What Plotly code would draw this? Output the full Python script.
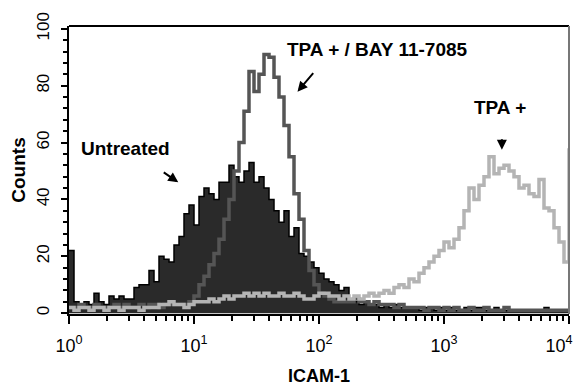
import numpy as np
import plotly.graph_objects as go

# ---- data: histogram channel counts, 100 log-spaced bins over 10^0..10^4 (0.04 decade each)
bin_width_decades = 0.04
n_bins = 100

untreated = [22, 4, 3, 4, 3, 7, 4, 3, 6, 5,
             6, 5, 5, 9, 10, 10, 15, 11, 20, 19,
             18, 24, 27, 35, 38, 31, 41, 44, 42, 40,
             46, 46, 52, 48, 46, 50, 53, 46, 48, 44,
             40, 36, 32, 36, 27, 30, 21, 20, 18, 16,
             14, 12, 11, 10, 8, 9, 5, 4, 3, 4,
             3, 3, 2, 3, 2, 3, 2, 2, 2, 2,
             1, 2, 2, 1, 2, 1, 2, 1, 1, 2,
             1, 2, 2, 1, 1, 2, 1, 1, 1, 1,
             1, 1, 1, 1, 1, 2, 1, 1, 1, 1]

tpa_bay = [2, 2, 3, 2, 2, 3, 2, 2, 2, 3,
           2, 3, 2, 2, 3, 2, 3, 3, 2, 3,
           3, 3, 3, 3, 4, 6, 10, 13, 17, 21,
           26, 33, 40, 50, 60, 71, 85, 78, 84, 91,
           90, 83, 76, 66, 55, 42, 33, 22, 15, 10,
           7, 6, 5, 4, 4, 4, 4, 5, 4, 4,
           3, 4, 3, 3, 3, 2, 3, 2, 2, 2,
           2, 1, 2, 2, 1, 2, 1, 2, 1, 1,
           2, 1, 1, 2, 1, 1, 1, 2, 1, 1,
           1, 1, 1, 1, 1, 1, 1, 1, 1, 1]

tpa = [2, 1, 2, 2, 1, 2, 2, 1, 2, 2,
       1, 2, 2, 2, 1, 2, 2, 2, 3, 3,
       4, 3, 3, 2, 3, 4, 4, 4, 5, 4,
       5, 6, 5, 6, 6, 7, 6, 7, 6, 7,
       6, 6, 7, 6, 6, 7, 6, 5, 5, 6,
       7, 7, 6, 6, 5, 6, 5, 6, 5, 6,
       7, 6, 7, 8, 7, 9, 10, 9, 12, 11,
       14, 16, 18, 20, 22, 25, 23, 26, 30, 36,
       44, 40, 45, 48, 55, 49, 51, 52, 50, 48,
       44, 45, 42, 41, 47, 37, 36, 30, 25, 18]
tpa_last_channel = 58   # saturation channel at 10^4

y_ticks = [0, 20, 40, 60, 80, 100]
x_tickvals = [1, 10, 100, 1000, 10000]
x_ticktext = ["10<sup>0</sup>", "10<sup>1</sup>", "10<sup>2</sup>", "10<sup>3</sup>",
              "10<sup>4</sup>" + "\u00a0" * 4]

edges = list(10 ** (np.arange(n_bins + 1) * bin_width_decades))

FONT = "Liberation Sans Narrow, Arial Narrow, Liberation Sans, Arial, sans-serif"

fig = go.Figure()
fig.add_trace(go.Scatter(
    x=edges, y=untreated + [untreated[-1]], mode="lines", line_shape="hv",
    line=dict(color="#000000", width=1.5), fill="tozeroy", fillcolor="#2a2a2a",
    name="Untreated", showlegend=False, hoverinfo="skip"))
fig.add_trace(go.Scatter(
    x=edges, y=tpa_bay + [tpa_bay[-1]], mode="lines", line_shape="hv",
    line=dict(color="#555555", width=3.5), name="TPA + / BAY 11-7085",
    showlegend=False, hoverinfo="skip"))
fig.add_trace(go.Scatter(
    x=edges, y=tpa + [tpa_last_channel], mode="lines", line_shape="hv",
    line=dict(color="#b4b4b4", width=3.5), name="TPA +",
    showlegend=False, hoverinfo="skip"))

# page body has an 8px margin, so the figure is offset by 8px
fig.update_layout(
    width=576, height=378,
    margin=dict(l=61, r=15, t=18, b=72),
    paper_bgcolor="white", plot_bgcolor="white",
    font=dict(family=FONT, color="black"),
    xaxis=dict(
        type="log", range=[0, 4], tickvals=x_tickvals, ticktext=x_ticktext,
        ticks="outside", ticklen=8, tickwidth=2, tickcolor="black",
        showline=True, linecolor="black", linewidth=2, showgrid=False, zeroline=False,
        tickfont=dict(size=18, family=FONT), ticklabelstandoff=6, ticklabeloverflow="allow",
        minor=dict(dtick="D1", ticks="outside", ticklen=5, tickwidth=1.5, tickcolor="black", showgrid=False),
        title=dict(text="<b>ICAM-1</b>", font=dict(size=18, family=FONT), standoff=15),
        automargin=False),
    yaxis=dict(
        range=[-0.3, 101], tickvals=y_ticks, tickangle=-90,
        ticks="outside", ticklen=6, tickwidth=2, tickcolor="black",
        showline=True, linecolor="black", linewidth=2, showgrid=False, zeroline=False,
        tickfont=dict(size=17, family=FONT), ticklabelstandoff=5,
        minor=dict(dtick=4, ticks="outside", ticklen=4, tickwidth=1.5, tickcolor="black", showgrid=False),
        title=dict(text="<b>Counts</b>", font=dict(size=19, family=FONT), standoff=10),
        automargin=False),
    shapes=[
        dict(type="line", xref="paper", yref="paper", x0=0, x1=1, y0=1, y1=1,
             line=dict(color="black", width=2)),
        dict(type="line", xref="paper", yref="paper", x0=1, x1=1, y0=0, y1=1,
             line=dict(color="#777777", width=2)),
    ],
    annotations=[
        dict(x=0.449, y=57.9, xref="x", yref="y", text="<b>Untreated</b>", showarrow=False,
             font=dict(size=19, family=FONT)),
        dict(x=0.874, y=46, xref="x", yref="y", text="", showarrow=True, arrowhead=2,
             arrowsize=1, arrowwidth=2, arrowcolor="black", ax=-16, ay=-11),
        dict(x=2.469, y=92.6, xref="x", yref="y", text="<b>TPA + / BAY 11-7085</b>", showarrow=False,
             font=dict(size=19, family=FONT)),
        dict(x=1.828, y=77.9, xref="x", yref="y", text="", showarrow=True, arrowhead=2,
             arrowsize=1, arrowwidth=2, arrowcolor="black", ax=17, ay=-20),
        dict(x=3.447, y=72.3, xref="x", yref="y", text="<b>TPA +</b>", showarrow=False,
             font=dict(size=19, family=FONT)),
        dict(x=3.463, y=57.5, xref="x", yref="y", text="", showarrow=True, arrowhead=2,
             arrowsize=1, arrowwidth=2, arrowcolor="black", ax=0, ay=-12),
    ],
)

fig.write_html("out.html")
